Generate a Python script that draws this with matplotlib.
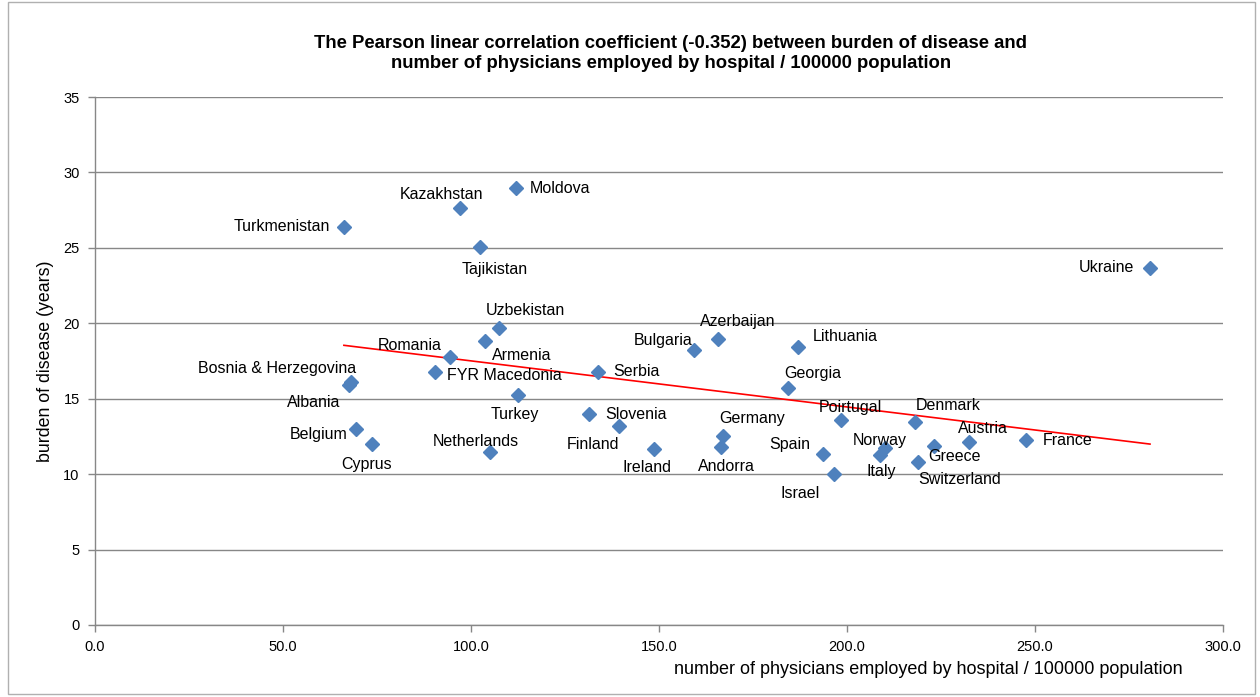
import numpy as np
import matplotlib
matplotlib.use("Agg")
import matplotlib.pyplot as plt
from matplotlib.patches import Rectangle

plt.rcParams["font.family"] = ["Liberation Sans", "DejaVu Sans"]

# data
countries = [
    "Turkmenistan", "Kazakhstan", "Moldova", "Tajikistan", "Ukraine",
    "Uzbekistan", "Armenia", "Romania", "FYR Macedonia", "Bosnia & Herzegovina",
    "Albania", "Turkey", "Serbia", "Slovenia", "Finland",
    "Belgium", "Cyprus", "Netherlands", "Ireland", "Bulgaria",
    "Azerbaijan", "Lithuania", "Georgia", "Germany", "Andorra",
    "Spain", "Israel", "Poirtugal", "Denmark", "Norway",
    "Italy", "Greece", "Switzerland", "Austria", "France",
]
physicians = [
    66.2, 97.0, 111.9, 102.3, 280.6,
    107.4, 103.6, 94.3, 90.4, 68.0,
    67.5, 112.4, 133.8, 131.5, 139.3,
    69.5, 73.8, 105.0, 148.8, 159.4,
    165.8, 187.1, 184.4, 167.0, 166.4,
    193.6, 196.5, 198.4, 218.2, 210.2,
    208.9, 223.2, 219.0, 232.5, 247.6,
]
burden = [
    26.4, 27.65, 29.0, 25.07, 23.67,
    19.7, 18.83, 17.77, 16.78, 16.1,
    15.9, 15.25, 16.8, 14.0, 13.2,
    12.98, 12.0, 11.5, 11.67, 18.24,
    18.95, 18.4, 15.7, 12.53, 11.83,
    11.34, 10.0, 13.6, 13.44, 11.72,
    11.27, 11.89, 10.83, 12.12, 12.27,
]
x_ticks = [0, 50, 100, 150, 200, 250, 300]
y_ticks = [0, 5, 10, 15, 20, 25, 30, 35]

# label placement (offset in pixels, horizontal alignment)
label_pos = {
    "Turkmenistan": (-14, 0, "right"),
    "Kazakhstan": (-18, 13, "center"),
    "Moldova": (14, -1, "left"),
    "Tajikistan": (15, -23, "center"),
    "Ukraine": (-16, 0, "right"),
    "Uzbekistan": (27, 17, "center"),
    "Armenia": (37, -15, "center"),
    "Romania": (-40, 11, "center"),
    "FYR Macedonia": (12, -4, "left"),
    "Bosnia & Herzegovina": (5, 14, "right"),
    "Albania": (-35, -17, "center"),
    "Turkey": (-3, -20, "center"),
    "Serbia": (15, 0, "left"),
    "Slovenia": (16, -1, "left"),
    "Finland": (-26, -19, "center"),
    "Belgium": (-9, -5, "right"),
    "Cyprus": (-6, -21, "center"),
    "Netherlands": (-14, 10, "center"),
    "Ireland": (-7, -19, "center"),
    "Bulgaria": (-31, 9, "center"),
    "Azerbaijan": (19, 18, "center"),
    "Lithuania": (14, 11, "left"),
    "Georgia": (24, 15, "center"),
    "Germany": (29, 17, "center"),
    "Andorra": (6, -20, "center"),
    "Spain": (-33, 9, "center"),
    "Israel": (-34, -19, "center"),
    "Poirtugal": (9, 12, "center"),
    "Denmark": (33, 17, "center"),
    "Norway": (-6, 8, "center"),
    "Italy": (1, -17, "center"),
    "Greece": (20, -11, "center"),
    "Switzerland": (41, -18, "center"),
    "Austria": (14, 14, "center"),
    "France": (17, -1, "left"),
}

fig = plt.figure(figsize=(12.6, 6.97), dpi=100)
fig.patches.append(Rectangle((0.006, 0.004), 0.99, 0.993, transform=fig.transFigure,
                             fill=False, edgecolor="#b0b0b0", linewidth=1))
ax = fig.add_axes([0.0754, 0.1033, 0.8952, 0.7575])

x = np.array(physicians)
y = np.array(burden)

ax.plot(x, y, linestyle="none", marker="D", markersize=7.5,
        color="#4f81bd", markeredgecolor="#4f81bd", zorder=3)

# linear trend line over the data range
slope, intercept = np.polyfit(x, y, 1)
xs = np.array([x.min(), x.max()])
ax.plot(xs, slope * xs + intercept, color="#ff0000", linewidth=1.2, zorder=2)

for name, xv, yv in zip(countries, physicians, burden):
    dx, dy, ha = label_pos[name]
    ax.annotate(name, (xv, yv), xytext=(dx, dy), textcoords="offset pixels",
                ha=ha, va="center", fontsize=11.5, color="#000000", zorder=4)

ax.set_xlim(0, 300)
ax.set_ylim(0, 35)
ax.set_xticks(x_ticks)
ax.set_xticklabels([f"{t:.1f}" for t in x_ticks])
ax.set_yticks(y_ticks)
ax.tick_params(axis="both", labelsize=10.5, colors="#000000", length=5, width=1, color="#878787")
ax.tick_params(axis="x", pad=6)
ax.tick_params(axis="y", pad=6)

ax.grid(True, axis="y", color="#878787", linewidth=1)
ax.set_axisbelow(True)
for side in ["top", "right"]:
    ax.spines[side].set_visible(False)
for side in ["left", "bottom"]:
    ax.spines[side].set_color("#878787")
    ax.spines[side].set_linewidth(1)

fig.text(0.5325, 0.923, "The Pearson linear correlation coefficient (-0.352) between burden of disease and\n"
         "number of physicians employed by hospital / 100000 population",
         ha="center", va="center", fontsize=13.3, fontweight="bold", linespacing=1.2)
fig.text(0.737, 0.040, "number of physicians employed by hospital / 100000 population",
         ha="center", va="center", fontsize=13)
fig.text(0.036, 0.481, "burden of disease (years)", rotation=90,
         ha="center", va="center", fontsize=12.8)

fig.savefig("out.png", dpi=100)
